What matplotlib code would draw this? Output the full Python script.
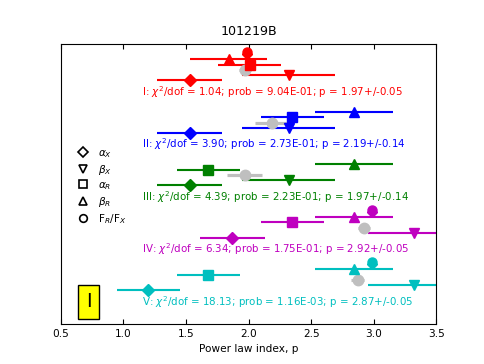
import matplotlib
matplotlib.use("Agg")
import matplotlib.pyplot as plt
from matplotlib.lines import Line2D

# fit summaries for the five groups
labels = ["I", "II", "III", "IV", "V"]
colors = ["r", "b", "g", "m", "c"]
chi2dof = [1.04, 3.90, 4.39, 6.34, 18.13]
prob = ["9.04E-01", "2.73E-01", "2.23E-01", "1.75E-01", "1.16E-03"]
p_fit = [1.97, 2.19, 1.97, 2.92, 2.87]
p_err = [0.05, 0.14, 0.14, 0.05, 0.05]

# per-group index estimates (value, error)
alpha_x = [1.53, 1.53, 1.53, 1.87, 1.20]
alpha_x_err = [0.26, 0.26, 0.26, 0.26, 0.25]
beta_x = [2.32, 2.32, 2.32, 3.32, 3.32]
beta_x_err = [0.37, 0.37, 0.37, 0.37, 0.37]
alpha_r = [2.01, 2.35, 1.68, 2.35, 1.68]
alpha_r_err = [0.25, 0.25, 0.25, 0.25, 0.25]
beta_r = [1.84, 2.84, 2.84, 2.84, 2.84]
beta_r_err = [0.31, 0.31, 0.31, 0.31, 0.31]
ratio = [1.99, None, None, 2.985, 2.985]

fs = 0.758  # scale from the original 640x480 figure
fig = plt.figure(figsize=(4.85, 3.64), dpi=100)
ax = fig.add_subplot(111)

for i in range(len(labels)):
    c = colors[i]
    base = 2.2 + 5.25 * (len(labels) - 1 - i)
    kw = dict(color=c, lw=2 * fs, capsize=0, ls="none")
    ax.errorbar(alpha_x[i], base + 1.15, xerr=alpha_x_err[i], marker="D", mec=c, ms=6.5, **kw)
    ax.errorbar(beta_x[i], base + 1.65, xerr=beta_x_err[i], marker="v", mec=c, ms=7.5, **kw)
    ax.errorbar(p_fit[i], base + 2.15, xerr=p_err[i], marker="o", color="0.75",
                mec="0.75", lw=3 * fs, ms=7.5, ls="none")
    ax.errorbar(alpha_r[i], base + 2.7, xerr=alpha_r_err[i], marker="s", mec=c, ms=6.5, **kw)
    ax.errorbar(beta_r[i], base + 3.25, xerr=beta_r_err[i], marker="^", mec=c, ms=7.5, **kw)
    if ratio[i] is not None:
        ax.plot(ratio[i], base + 3.75, marker="D", color=c, ms=5.5)
        ax.plot(ratio[i], base + 3.95, marker="o", color=c, ms=6.5)
    txt = r"%s: $\chi^2$/dof = %.2f; prob = %s; p = %.2f+/-%.2f" % (
        labels[i], chi2dof[i], prob[i], p_fit[i], p_err[i])
    ax.text(1.15, base, txt, color=c, fontsize=9.7 * fs, ha="left", va="center")

handles = [
    Line2D([], [], ls="none", marker="D", mfc="none", mec="k", mew=1.2, ms=5),
    Line2D([], [], ls="none", marker="v", mfc="none", mec="k", mew=1.2, ms=6),
    Line2D([], [], ls="none", marker="s", mfc="none", mec="k", mew=1.2, ms=5.5),
    Line2D([], [], ls="none", marker="^", mfc="none", mec="k", mew=1.2, ms=6),
    Line2D([], [], ls="none", marker="o", mfc="none", mec="k", mew=1.2, ms=5.5),
]
names = [r"$\alpha_X$", r"$\beta_X$", r"$\alpha_R$", r"$\beta_R$", r"F$_R$/F$_X$"]
ax.legend(handles, names, loc="upper left", bbox_to_anchor=(0.025, 0.655),
          frameon=False, fontsize=10 * fs, handlelength=1.0, handletextpad=1.0,
          labelspacing=0.3, borderaxespad=0.3)

ax.text(0.074, 0.079, "I", transform=ax.transAxes, fontsize=14, ha="center",
        va="center", bbox=dict(boxstyle="square,pad=0.4", fc="yellow", ec="k"))

ax.set_xlim(0.5, 3.5)
ax.set_ylim(0, 28)
ax.set_yticks([])
ax.tick_params(axis="x", direction="in", top=True, labelsize=10 * fs)
ax.set_xlabel("Power law index, p", fontsize=10 * fs)
ax.set_title("101219B", fontsize=12 * fs)
fig.savefig("out.png")
